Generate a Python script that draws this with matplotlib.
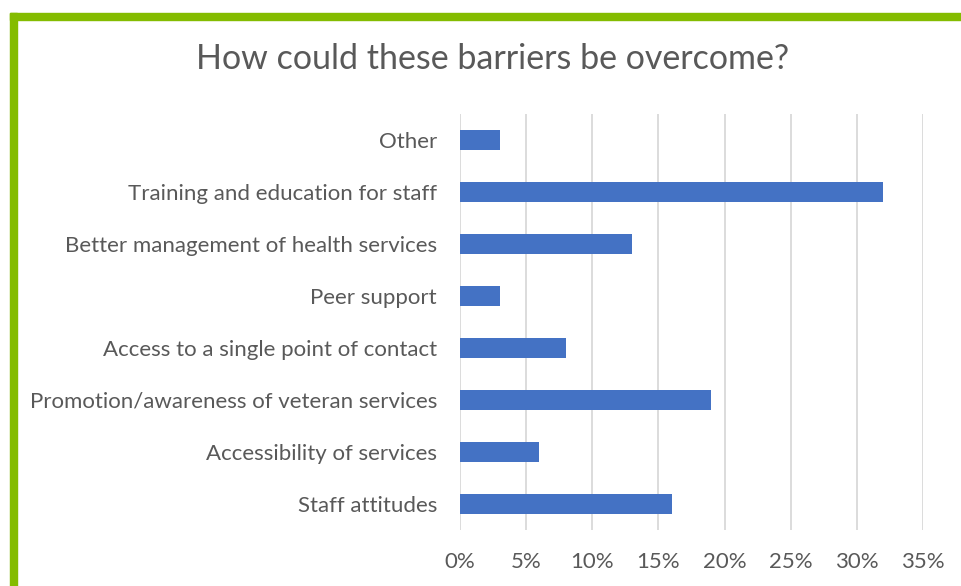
import matplotlib.pyplot as plt
from matplotlib.patches import Rectangle

# Survey responses, listed top to bottom
categories = ['Other', 'Training and education for staff', 'Better management of health services',
              'Peer support', 'Access to a single point of contact',
              'Promotion/awareness of veteran services', 'Accessibility of services', 'Staff attitudes']
percent = [3, 32, 13, 3, 8, 19, 6, 16]
xticks = [0, 5, 10, 15, 20, 25, 30, 35]

plt.rcParams['font.family'] = ['Lato', 'DejaVu Sans']

W, H = 961, 586
fig = plt.figure(figsize=(W / 100, H / 100), dpi=100)
ax = fig.add_axes([460 / W, 1 - 530 / H, (923 - 460) / W, (530 - 114) / H])

ypos = list(range(len(categories)))
ax.barh(ypos, percent, height=0.37, color='#4472C4', zorder=3)
ax.set_ylim(len(categories) - 0.5, -0.5)
ax.set_xlim(0, 35)
ax.set_xticks(xticks)
ax.set_xticklabels([f'{t}%' for t in xticks])
ax.set_yticks(ypos)
ax.set_yticklabels(categories)
ax.grid(axis='x', color='#D9D9D9', linewidth=1.3, zorder=0)
for s in ax.spines.values():
    s.set_visible(False)
ax.tick_params(length=0, labelsize=16, labelcolor='#595959')
ax.tick_params(axis='y', pad=16.5)
ax.tick_params(axis='x', pad=16)

fig.text(493 / W, 1 - 59 / H, 'How could these barriers be overcome?', ha='center', va='center',
         fontsize=24.5, color='#595959')

# green frame along the top and left edges
green = '#84BC00'
fig.patches.append(Rectangle((10 / W, 0), 7 / W, 1 - 13 / H, transform=fig.transFigure, color=green))
fig.patches.append(Rectangle((10 / W, 1 - 20 / H), 1, 7 / H, transform=fig.transFigure, color=green))

fig.savefig('out.png', dpi=100)
